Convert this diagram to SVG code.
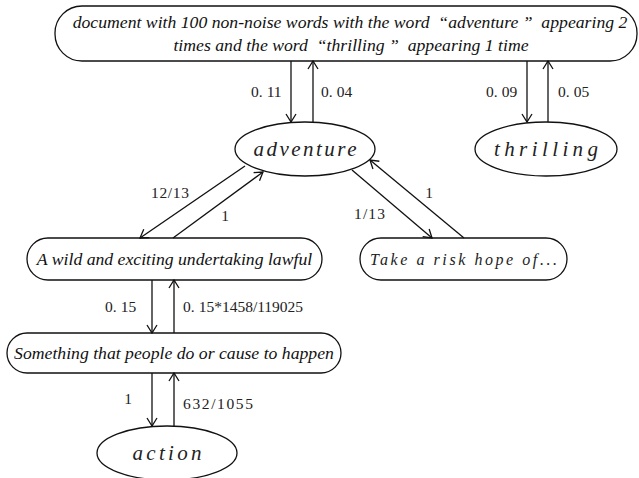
<svg xmlns="http://www.w3.org/2000/svg" width="639" height="478" viewBox="0 0 639 478">
<defs>
<style>
.shape{fill:#fff;stroke:#111;stroke-width:1.3}
.edge{fill:none;stroke:#111;stroke-width:1.3;marker-end:url(#arr)}
.ser{font-family:"Liberation Serif","Times New Roman",serif;font-style:italic;font-size:17.7px;fill:#111;text-anchor:middle}
.mono{font-family:"Liberation Serif","Times New Roman",serif;font-style:italic;fill:#222;text-anchor:middle}
.lbl{font-family:"Liberation Serif","Times New Roman",serif;font-size:15.5px;fill:#222}
</style>
<marker id="arr" markerWidth="10" markerHeight="12" refX="9" refY="6" orient="auto" markerUnits="userSpaceOnUse">
<path d="M1,1 L9,6 L1,11" fill="none" stroke="#111" stroke-width="1.3"/>
</marker>
</defs>
<rect width="639" height="478" fill="#fff"/>
<g id="document">
<rect class="shape" x="55" y="6" width="582" height="55" rx="27" ry="27"/>
<text class="ser" x="350" y="28" xml:space="preserve" style="white-space:pre">document with 100 non-noise words with the word  “adventure ”  appearing 2</text>
<text class="ser" x="351" y="51" xml:space="preserve" style="white-space:pre">times and the word  “thrilling ”  appearing 1 time</text>
</g>
<g id="adventure">
<ellipse class="shape" cx="305" cy="149" rx="70" ry="27"/>
<text class="mono" x="305" y="156" font-size="21" textLength="103" lengthAdjust="spacing">adventure</text>
</g>
<g id="thrilling">
<ellipse class="shape" cx="546" cy="149" rx="71" ry="27"/>
<text class="mono" x="546" y="156" font-size="21" textLength="104" lengthAdjust="spacing">thrilling</text>
</g>
<g id="wild">
<rect class="shape" x="27" y="238" width="295" height="42" rx="21" ry="21"/>
<text class="ser" x="174.5" y="265">A wild and exciting undertaking lawful</text>
</g>
<g id="risk">
<rect class="shape" x="360" y="238" width="207" height="42" rx="21" ry="21"/>
<text class="mono" x="463.5" y="264.5" font-size="16" textLength="187" lengthAdjust="spacing">Take a risk hope of...</text>
</g>
<g id="something">
<rect class="shape" x="7" y="333" width="334" height="40" rx="20" ry="20"/>
<text class="ser" x="174" y="359">Something that people do or cause to happen</text>
</g>
<g id="action">
<ellipse class="shape" cx="167" cy="453" rx="70" ry="27"/>
<text class="mono" x="167" y="460" font-size="21" textLength="69" lengthAdjust="spacing">action</text>
</g>
<g id="connectors">
<line class="edge" x1="291" y1="61" x2="291" y2="122"/>
<line class="edge" x1="313" y1="122" x2="313" y2="61"/>
<line class="edge" x1="527" y1="61" x2="527" y2="122"/>
<line class="edge" x1="548" y1="122" x2="548" y2="61"/>
<line class="edge" x1="245" y1="166" x2="140" y2="238"/>
<line class="edge" x1="173" y1="238" x2="263" y2="172"/>
<line class="edge" x1="352" y1="170" x2="432" y2="238"/>
<line class="edge" x1="464" y1="238" x2="370" y2="160"/>
<line class="edge" x1="152" y1="280" x2="152" y2="333"/>
<line class="edge" x1="174" y1="333" x2="174" y2="280"/>
<line class="edge" x1="152" y1="373" x2="152" y2="426"/>
<line class="edge" x1="174" y1="426" x2="174" y2="373"/>
<text class="lbl" x="251" y="97">0.<tspan dx="4">11</tspan></text>
<text class="lbl" x="321" y="97">0.<tspan dx="4">04</tspan></text>
<text class="lbl" x="486" y="97">0.<tspan dx="4">09</tspan></text>
<text class="lbl" x="558" y="97">0.<tspan dx="4">05</tspan></text>
<text class="lbl" x="151" y="198" textLength="38" lengthAdjust="spacing">12/13</text>
<text class="lbl" x="225" y="221" text-anchor="middle">1</text>
<text class="lbl" x="354" y="219" textLength="31" lengthAdjust="spacing">1/13</text>
<text class="lbl" x="429" y="198" text-anchor="middle">1</text>
<text class="lbl" x="105" y="312">0.<tspan dx="4">15</tspan></text>
<text class="lbl" x="183" y="312">0.<tspan dx="4">15*1458/119025</tspan></text>
<text class="lbl" x="128" y="404" text-anchor="middle">1</text>
<text class="lbl" x="183" y="409" textLength="70" lengthAdjust="spacing">632/1055</text>
</g>
</svg>
